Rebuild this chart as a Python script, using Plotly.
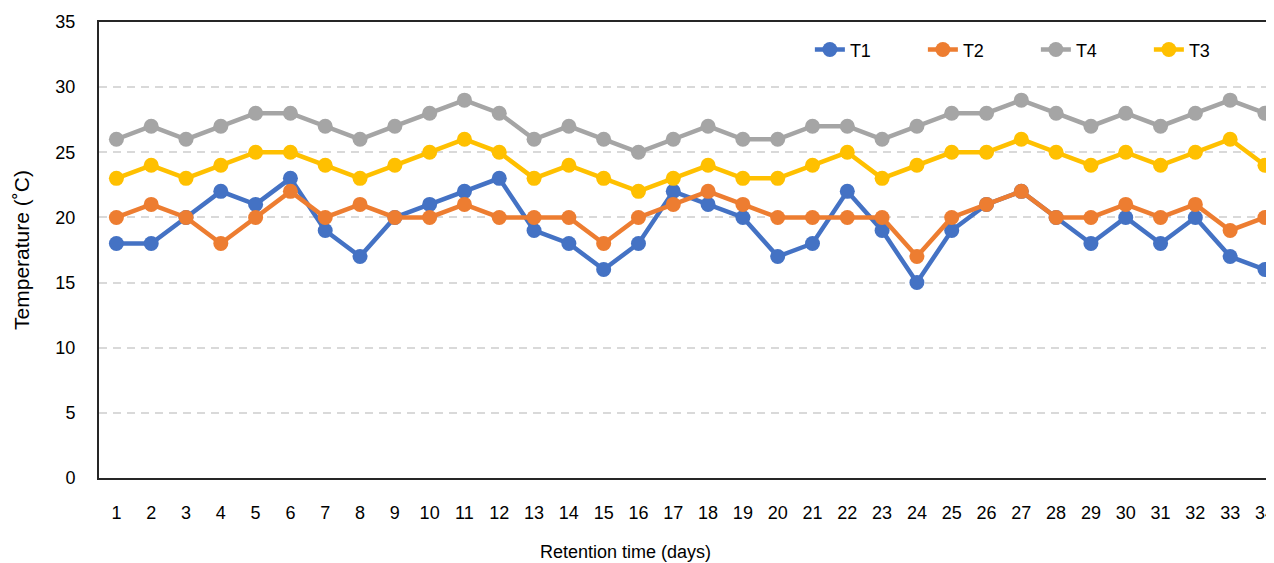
import plotly.graph_objects as go

days = list(range(1, 35))
t1 = [18, 18, 20, 22, 21, 23, 19, 17, 20, 21, 22, 23, 19, 18, 16, 18, 22, 21, 20, 17,
      18, 22, 19, 15, 19, 21, 22, 20, 18, 20, 18, 20, 17, 16]
t2 = [20, 21, 20, 18, 20, 22, 20, 21, 20, 20, 21, 20, 20, 20, 18, 20, 21, 22, 21, 20,
      20, 20, 20, 17, 20, 21, 22, 20, 20, 21, 20, 21, 19, 20]
t4 = [26, 27, 26, 27, 28, 28, 27, 26, 27, 28, 29, 28, 26, 27, 26, 25, 26, 27, 26, 26,
      27, 27, 26, 27, 28, 28, 29, 28, 27, 28, 27, 28, 29, 28]
t3 = [23, 24, 23, 24, 25, 25, 24, 23, 24, 25, 26, 25, 23, 24, 23, 22, 23, 24, 23, 23,
      24, 25, 23, 24, 25, 25, 26, 25, 24, 25, 24, 25, 26, 24]

series = [("T1", t1, "#4472C4"), ("T2", t2, "#ED7D31"), ("T4", t4, "#A5A5A5"), ("T3", t3, "#FFC000")]

FONT = "Liberation Sans, Arial, sans-serif"

fig = go.Figure()
for name, vals, col in series:
    fig.add_trace(go.Scatter(
        x=days, y=vals, name=name, mode="lines+markers",
        line=dict(color=col, width=4.5),
        marker=dict(color=col, size=15),
    ))

# page body has an 8px margin, so the figure is offset by 8px
fig.update_layout(
    width=1266, height=555,
    margin=dict(l=91, r=0, t=14, b=85),
    paper_bgcolor="white", plot_bgcolor="white",
    font=dict(family=FONT, size=18, color="black"),
    showlegend=True,
    legend=dict(orientation="h", x=0.605, xanchor="left", y=0.939, yanchor="middle",
                font=dict(size=18), bgcolor="rgba(0,0,0,0)",
                entrywidth=68, entrywidthmode="pixels", itemwidth=30),
    xaxis=dict(
        range=[0.5, 34.26], tickmode="array", tickvals=days,
        ticktext=[str(d) for d in days],
        showgrid=False, zeroline=False,
        showline=True, linecolor="#262626", linewidth=2, mirror=True,
        ticks="outside", ticklen=17, tickcolor="rgba(0,0,0,0)",
        tickfont=dict(size=18), ticklabeloverflow="allow",
    ),
    yaxis=dict(
        range=[0, 35], tickmode="array", tickvals=[0, 5, 10, 15, 20, 25, 30, 35],
        showgrid=True, gridcolor="#D9D9D9", gridwidth=1.5, griddash="8px,6px",
        zeroline=False,
        showline=True, linecolor="#262626", linewidth=2,
        ticks="outside", ticklen=18, tickcolor="rgba(0,0,0,0)",
        tickfont=dict(size=18),
        title=dict(text="Temperature (˚C)", font=dict(size=21), standoff=20),
    ),
    annotations=[dict(text="Retention time (days)", xref="paper", yref="paper",
                      x=0.4485, y=-0.162, xanchor="center", yanchor="middle",
                      showarrow=False, font=dict(size=18))],
)

fig.write_html("out.html")
